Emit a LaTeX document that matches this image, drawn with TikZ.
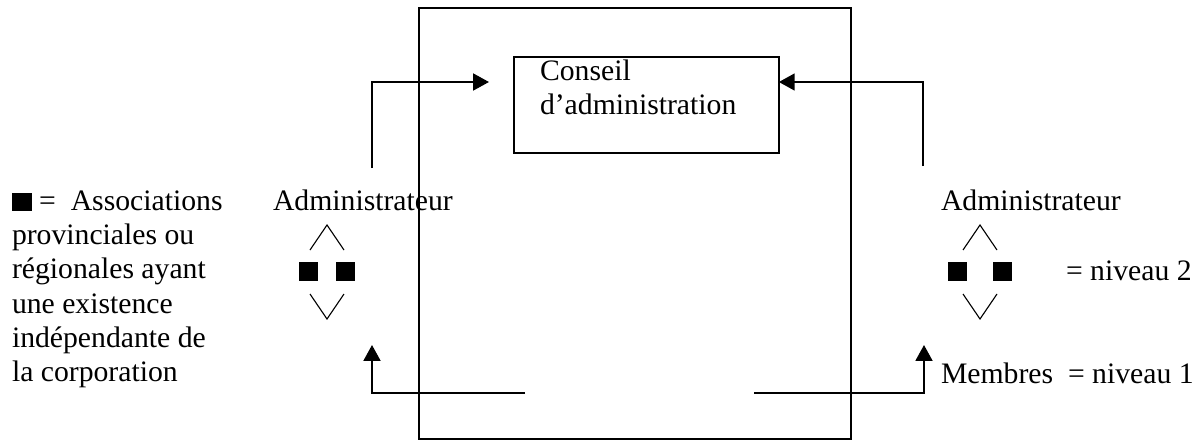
\documentclass[tikz,border=0pt]{standalone}
\usepackage{fontspec}
\setmainfont{Liberation Serif}
\usetikzlibrary{
  arrows.meta
}

\begin{document}
\begin{tikzpicture}[
  x=0.404pt, y=-0.404pt,
  font=\fontsize{12}{13.8}\selectfont,
  line width=0.85pt,
  every node/.style = {inner sep=0pt, outer sep=0pt},
  arr/.style = {-{Triangle[length=6.4pt,width=6.8pt]}},
  chev/.style = {line width=0.45pt},
  lbl/.style = {anchor=base west}]
  \useasboundingbox (0,0) rectangle (1196,440);
  % cadre
  \draw (419,8) rectangle (851,439);
  \node (conseil) [draw, anchor=north west,
    minimum width=107pt, minimum height=38.8pt] at (514,57) {};
  \node (conseiltxt) [anchor=north west, align=left] at (540,60)
    {Conseil\\d’administration};
  % textes
  \node (legende) [anchor=north west, align=left] at (12,191)
    {\rule{8pt}{7pt} =\ \ Associations\\provinciales ou\\régionales ayant\\une existence\\indépendante de\\la corporation};
  \node (adminL) [lbl] at (273,210) {Administrateur};
  \node (adminR) [lbl] at (941,210) {Administrateur};
  \node (niveau2) [lbl] at (1066,280) {= niveau 2};
  \node (membres) [lbl] at (941,383) {Membres\ \ = niveau 1};
  % niveau 2
  \foreach \cx/\dx in {327/18.5, 980/22.5} {
    \draw[chev] (\cx-17,250) -- (\cx,225) -- (\cx+17,250);
    \draw[chev] (\cx-17,294) -- (\cx,319) -- (\cx+17,294);
    \fill (\cx-\dx-9.5,262) rectangle (\cx-\dx+9.5,281);
    \fill (\cx+\dx-9.5,262) rectangle (\cx+\dx+9.5,281);
  }
  % fleches
  \coordinate (upL) at (372,168);
  \coordinate (inL) at (489,82);
  \coordinate (upR) at (923,166);
  \coordinate (basL) at (525,393);
  \coordinate (tipL) at (372,345);
  \coordinate (basR) at (754,393);
  \coordinate (tipR) at (924,345);
  \draw[arr] (upL) |- (inL);
  \draw[arr] (upR) |- (conseil.east |- inL);
  \draw[arr] (basL) -| (tipL);
  \draw[arr] (basR) -| (tipR);
\end{tikzpicture}
\end{document}
